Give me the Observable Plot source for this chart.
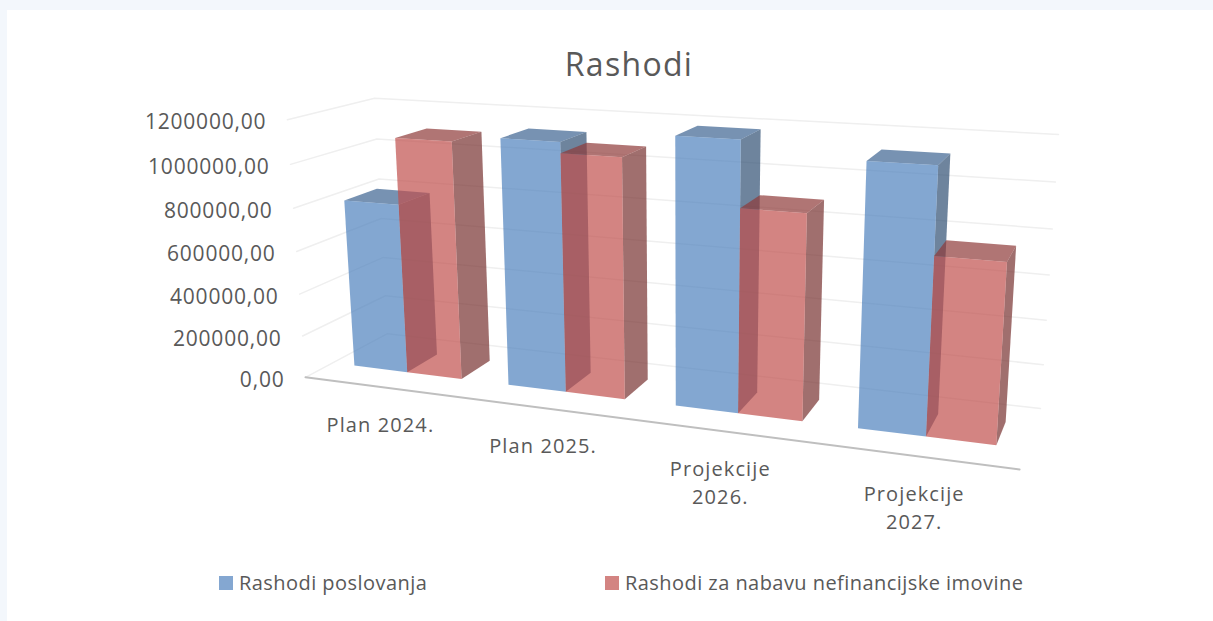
<!DOCTYPE html>
<html><head><meta charset="utf-8">
<script src="https://cdn.jsdelivr.net/npm/d3@7"></script>
<script src="https://cdn.jsdelivr.net/npm/@observablehq/plot@0.6"></script>
<style>
html,body{margin:0;padding:0;background:#f3f7fc;width:1213px;height:621px;overflow:hidden}
#card{position:absolute;left:7px;top:10px;width:1206px;height:611px;background:#fff}
#page{position:absolute;left:0;top:0;width:1213px;font-family:"Open Sans",sans-serif;color:#595959}
#title{height:90px;box-sizing:border-box;padding-top:41px;line-height:46px;text-align:center;padding-left:45px;font-size:32px;letter-spacing:1.3px}
#legend{position:relative;height:61px;font-size:20px;letter-spacing:.45px}
.sw{position:absolute;top:16px;width:14px;height:14px}
.lb{position:absolute;top:9px;line-height:28px;white-space:nowrap}
svg{display:block}
.ticklabels text{letter-spacing:.8px}
.catlabels text{letter-spacing:1.1px}
</style></head><body>
<div id="card"></div>
<div id="page">
<div id="title">Rashodi</div>
<div id="chart"></div>
<div id="legend"></div>
</div>
<script>
const categories = ["Plan 2024.", "Plan 2025.", "Projekcije\n2026.", "Projekcije\n2027."];
const seriesNames = ["Rashodi poslovanja", "Rashodi za nabavu nefinancijske imovine"];
const rashodiPoslovanja = [800000, 1134000, 1190000, 1133000];
const rashodiNabava = [1106000, 1085000, 902000, 767000];
const valueTicks = [0, 200000, 400000, 600000, 800000, 1000000, 1200000];

// camera: 3D plot box (along categories, depth, value share) -> page pixels
const cage = [
  [0,0,0,305,377],[1,0,0,1019,469],[0,1,0,387,333],[1,1,0,1040,408],
  [0,0,1,287,119],[0,1,1,374,98],[1,1,1,1058,134]
];
function solveCamera(pts){
  const A=[],b=[];
  for(const [u,w,v,x,y] of pts){
    A.push([u,w,v,1,0,0,0,0,-x*u,-x*w,-x*v]);b.push(x);
    A.push([0,0,0,0,u,w,v,1,-y*u,-y*w,-y*v]);b.push(y);
  }
  const n=11,M=Array.from({length:n},(_,i)=>{
    const r=Array(n+1).fill(0);
    A.forEach((row,k)=>{for(let j=0;j<n;j++)r[j]+=row[i]*row[j];r[n]+=row[i]*b[k];});
    return r;});
  for(let i=0;i<n;i++){
    let p=i;for(let k=i+1;k<n;k++)if(Math.abs(M[k][i])>Math.abs(M[p][i]))p=k;
    [M[i],M[p]]=[M[p],M[i]];
    for(let k=0;k<n;k++)if(k!==i){const f=M[k][i]/M[i][i];for(let j=i;j<=n;j++)M[k][j]-=f*M[i][j];}
  }
  return M.map((r,i)=>r[n]/r[i]);
}
const cam = solveCamera(cage);
const vMax = 1200000;
function project(u,w,val){
  const v=val/vMax, d=cam[8]*u+cam[9]*w+cam[10]*v+1;
  return [(cam[0]*u+cam[1]*w+cam[2]*v+cam[3])/d,(cam[4]*u+cam[5]*w+cam[6]*v+cam[7])/d];
}

const barW=0.088, depth=[0.31,0.70];
const seriesColor=[
 {front:"#4f81bd",top:"#3d6492",side:"#315074"},
 {front:"#c0504d",top:"#8e3b39",side:"#773230"}];
const faces=[];
function addFace(id,fill,corners){corners.forEach(([u,w,val])=>{const [x,y]=project(u,w,val);faces.push({id,fill,x,y});});}
categories.forEach((c,i)=>{
  [rashodiPoslovanja,rashodiNabava].forEach((vals,s)=>{
    const u0=i*0.25+(0.25-2*barW)/2+s*barW,u1=u0+barW,[w0,w1]=depth,val=vals[i],col=seriesColor[s],k=`${i}-${s}-`;
    addFace(k+"side",col.side,[[u1,w0,0],[u1,w1,0],[u1,w1,val],[u1,w0,val]]);
    addFace(k+"top",col.top,[[u0,w0,val],[u1,w0,val],[u1,w1,val],[u0,w1,val]]);
    addFace(k+"front",col.front,[[u0,w0,0],[u1,w0,0],[u1,w0,val],[u0,w0,val]]);
  });
});
const grid=[];
valueTicks.forEach(t=>{
  [[0,0,t],[0,1,t],[1,1,t]].forEach(p=>{const [x,y]=project(...p);grid.push({t,x,y});});
});
const axisLine=[[0,0,0],[1,0,0]].map(p=>{const [x,y]=project(...p);return {x,y};});
const tickLabels=valueTicks.map(t=>{const [x,y]=project(0,0,t);return {x,y,label:d3.format(".2f")(t).replace(".",",")};});
const catLabels=categories.map((c,i)=>{const [x,y]=project((i+0.5)/4,0,0);return {x,y,label:c};});

const top0=90,h=470,W=1213;
const chart=Plot.plot({
  width:W,height:h,marginTop:0,marginBottom:0,marginLeft:0,marginRight:0,
  x:{domain:[0,W],range:[0,W],axis:null},
  y:{domain:[top0,top0+h],range:[0,h],axis:null},
  color:{type:"identity"},
  style:{background:"transparent",fontFamily:"'Open Sans',sans-serif",color:"#595959"},
  marks:[
    Plot.line(grid,{x:"x",y:"y",z:"t",stroke:"#efefef",strokeWidth:1.5,curve:"linear"}),
    Plot.line(axisLine,{x:"x",y:"y",stroke:"#bfbfbf",strokeWidth:2}),
    Plot.line(faces,{x:"x",y:"y",z:"id",fill:"fill",fillOpacity:0.7,stroke:"none",curve:"linear"}),
    Plot.text(tickLabels,{x:"x",y:"y",text:"label",textAnchor:"end",dx:-21,dy:3,fontSize:21,fill:"#595959",className:"ticklabels"}),
    Plot.text(catLabels,{x:"x",y:"y",text:"label",lineHeight:1.4,lineAnchor:"top",dx:-1.5,dy:25,fontSize:20,fill:"#595959",className:"catlabels"})
  ]
});
document.getElementById("chart").appendChild(chart);
const lg=document.getElementById("legend");
[[219,239],[605,625]].forEach(([sx,tx],i)=>{
  const a=document.createElement("div");a.className="sw";a.style.left=sx+"px";a.style.background=["#84a7d1","#d38482"][i];lg.appendChild(a);
  const b=document.createElement("div");b.className="lb";b.style.left=tx+"px";b.textContent=seriesNames[i];lg.appendChild(b);
});
</script></body></html>
